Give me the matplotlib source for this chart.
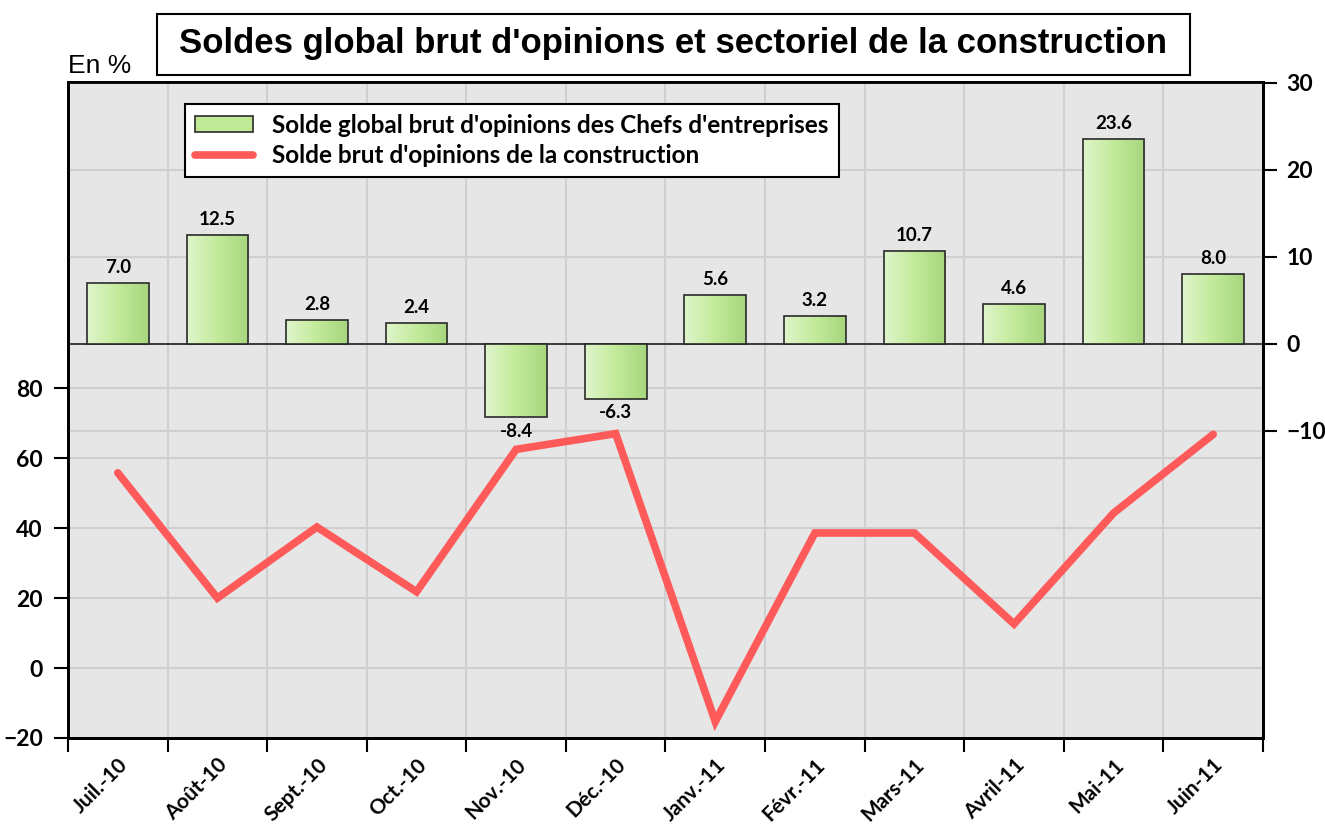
import numpy as np
import matplotlib
matplotlib.use("Agg")
import matplotlib.pyplot as plt
from matplotlib.patches import Rectangle, Patch
from matplotlib.lines import Line2D
from matplotlib.colors import LinearSegmentedColormap

# ---- data ----
months = ["Juil.-10", "Août-10", "Sept.-10", "Oct.-10", "Nov.-10", "Déc.-10",
          "Janv.-11", "Févr.-11", "Mars-11", "Avril-11", "Mai-11", "Juin-11"]
global_balance = [7.0, 12.5, 2.8, 2.4, -8.4, -6.3, 5.6, 3.2, 10.7, 4.6, 23.6, 8.0]
construction_balance = [55.8, 20.0, 40.3, 21.8, 62.5, 67.0, -15.3, 38.6, 38.6, 12.6, 44.3, 66.8]
left_ticks = [-20, 0, 20, 40, 60, 80]
right_ticks = [-10, 0, 10, 20, 30]

title = "Soldes global brut d'opinions et sectoriel de la construction"
label_bars = "Solde global brut d'opinions des Chefs d'entreprises"
label_line = "Solde brut d'opinions de la construction"

plt.rcParams["font.family"] = ["Lato", "DejaVu Sans"]
plt.rcParams["font.weight"] = "bold"

BG = "#e6e6e6"
GRID = "#cfcfcf"
RED = "#ff5a5a"

fig = plt.figure(figsize=(13.25, 8.27), dpi=100)
W, H = 1325, 827
x0, x1, ytop, ybot = 68, 1263, 82, 738
rect = [x0 / W, 1 - ybot / H, (x1 - x0) / W, (ybot - ytop) / H]

ax = fig.add_axes(rect)
ax.set_facecolor(BG)
x = np.arange(len(months))
ax.set_xlim(-0.5, len(months) - 0.5)
ax.set_ylim(-20, 167.5)
ax.set_yticks(left_ticks)
ax.set_xticks(np.arange(-0.5, len(months), 1.0))
ax.set_xticklabels([])
ax.set_xticks(x, minor=True)
ax.set_xticklabels(months, minor=True, rotation=45, ha="right", va="top",
                   rotation_mode="anchor", fontsize=15, fontweight="bold")
ax.tick_params(axis="x", which="major", direction="out", length=10, width=1.5)
ax.tick_params(axis="x", which="minor", length=0, pad=12)
ax.tick_params(axis="y", direction="out", length=10, width=1.5, pad=8, labelsize=16.5)
ax.grid(True, which="major", color=GRID, lw=1.5)
ax.set_axisbelow(True)
for s in ax.spines.values():
    s.set_linewidth(2)
    s.set_color("black")

# bars on right axis
ax2 = ax.twinx()
ax2.set_ylim(-45.3, 30.1)
ax2.set_yticks(right_ticks)
ax2.tick_params(axis="y", direction="out", length=10, width=1.5, pad=7, labelsize=16.5)
ax2.grid(True, axis="y", color=GRID, lw=1.5)
ax2.set_axisbelow(True)
for s in ax2.spines.values():
    s.set_linewidth(2)
    s.set_color("black")
ax2.axhline(0, color="#222222", lw=1.2, zorder=1.5)

bars = ax2.bar(x, global_balance, width=0.62, color="#c0ea98",
               edgecolor="#2a2a2a", linewidth=1.2, zorder=2)
cmap = LinearSegmentedColormap.from_list("g", ["#e0f5cc", "#c2ea9a", "#a6d67e"])
grad = np.linspace(0, 1, 256).reshape(1, -1)
for b in bars:
    bx, by = b.get_x(), b.get_y()
    bw, bh = b.get_width(), b.get_height()
    im = ax2.imshow(grad, cmap=cmap, extent=[bx, bx + bw, by, by + bh],
                    aspect="auto", zorder=2.1, interpolation="bilinear")
    im.set_clip_path(b)
    b.set_facecolor("none")
    b.set_zorder(2.2)
ax2.set_xlim(-0.5, len(months) - 0.5)
ax2.set_ylim(-45.3, 30.1)
ax2.set_aspect("auto")

for b, v in zip(bars, global_balance):
    cx = b.get_x() + b.get_width() / 2
    if v >= 0:
        ax2.annotate(f"{v:.1f}", (cx, v), xytext=(0, 5), textcoords="offset points",
                     ha="center", va="bottom", fontsize=13.5, fontweight="bold", zorder=3)
    else:
        ax2.annotate(f"{v:.1f}", (cx, v), xytext=(0, -4), textcoords="offset points",
                     ha="center", va="top", fontsize=13.5, fontweight="bold", zorder=3)

# line on top
ax3 = ax.twinx()
ax3.set_ylim(ax.get_ylim())
ax3.set_xlim(ax.get_xlim())
ax3.axis("off")
ax3.plot(x, construction_balance, color=RED, lw=5.5, solid_capstyle="round",
         solid_joinstyle="miter", zorder=4)

# legend
handles = [Patch(facecolor="#c0ea98", edgecolor="#2a2a2a", lw=1.2),
           Line2D([0], [0], color=RED, lw=5.5, solid_capstyle="round")]
leg = ax3.legend(handles, [label_bars, label_line], loc="upper left",
                 bbox_to_anchor=((185 - x0) / (x1 - x0), 1 - (104 - ytop) / (ybot - ytop)),
                 frameon=True, fancybox=False, framealpha=1, edgecolor="black",
                 prop={"weight": "bold", "size": 17.5},
                 handlelength=2.4, handleheight=0.65, borderpad=0.4,
                 labelspacing=0.3, handletextpad=0.8, borderaxespad=0)
leg.get_frame().set_linewidth(1.5)

# title box
fig.patches.append(Rectangle((157 / W, 1 - 75 / H), (1190 - 157) / W, (75 - 14) / H,
                             transform=fig.transFigure, facecolor="white",
                             edgecolor="black", lw=1.5))
fig.text(673 / W, 1 - 44 / H, title, ha="center", va="center", fontsize=25,
         fontweight="bold", family="Liberation Sans")
fig.text(68 / W, 1 - 66 / H, "En %", ha="left", va="center", fontsize=19,
         fontweight="normal", family="Liberation Sans")

fig.savefig("out.png", dpi=100)
